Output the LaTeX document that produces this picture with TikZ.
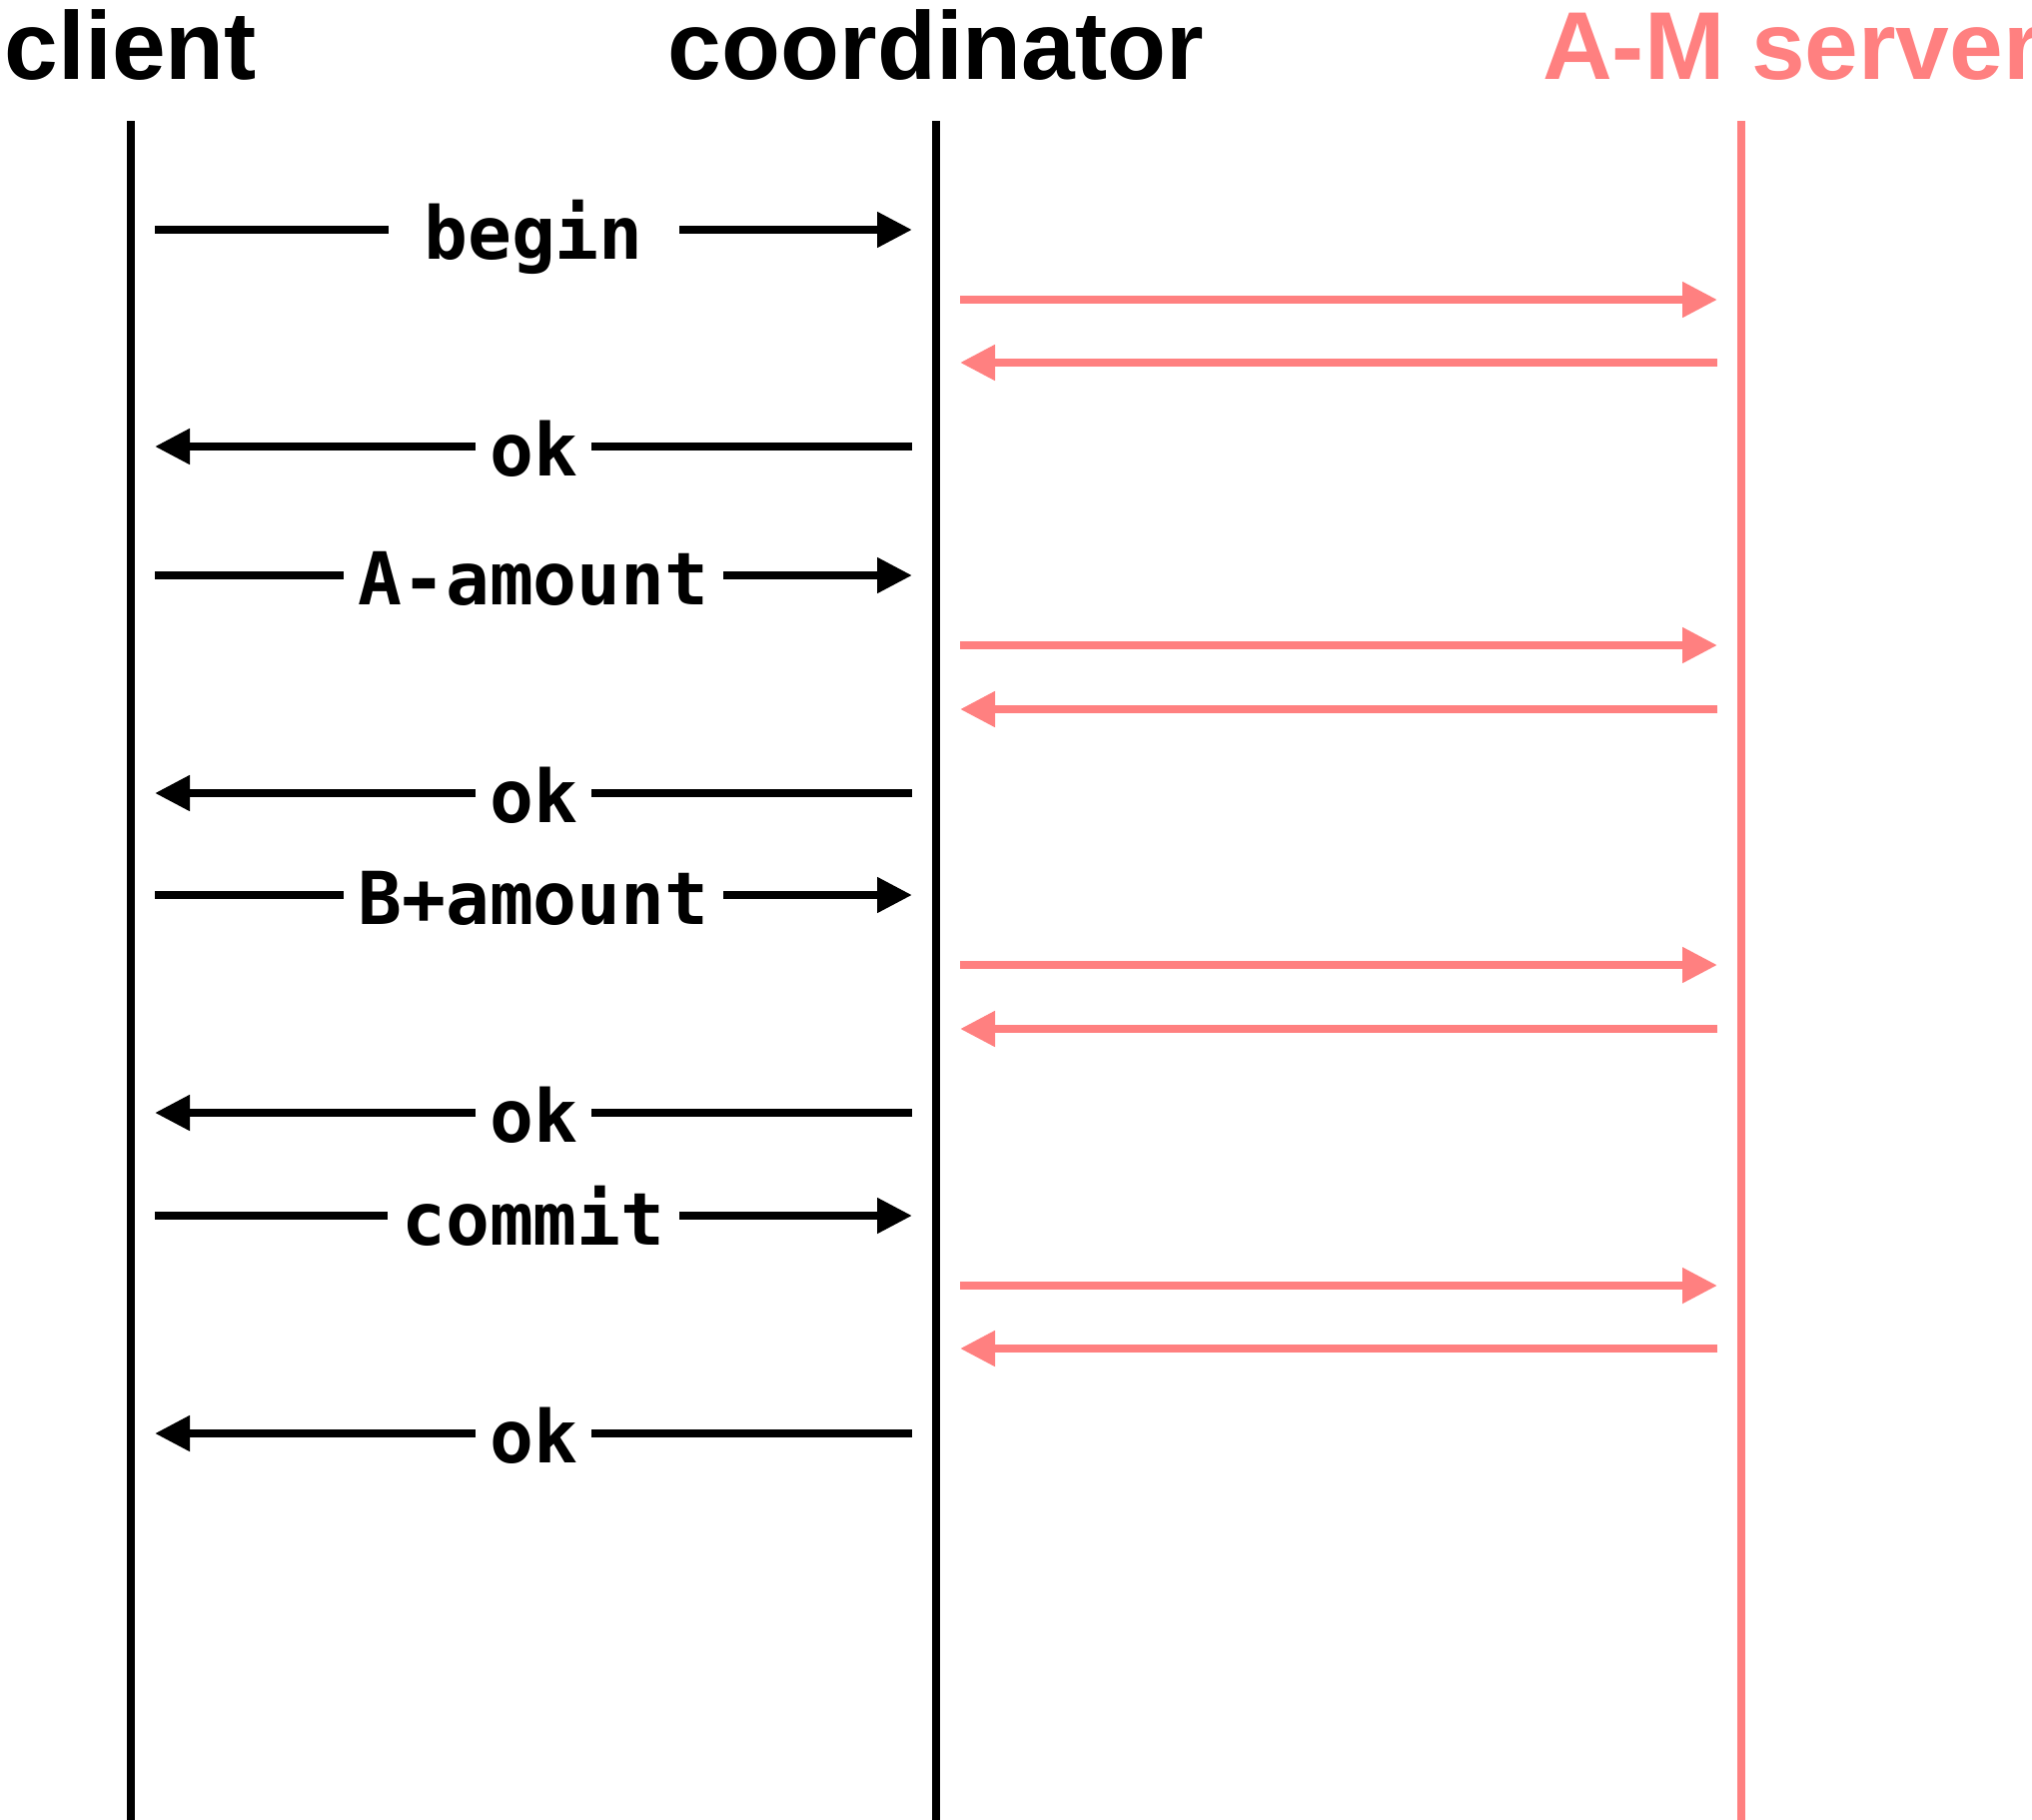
\documentclass[tikz,border=0pt]{standalone}
\usepackage{fontspec}
\setmainfont{Liberation Sans}
\newfontfamily\msgfont{DejaVu Sans Mono}
\usetikzlibrary{arrows.meta}
\definecolor{srv}{RGB}{255,128,128}
\begin{document}
\begin{tikzpicture}[x=1pt,y=-1pt,
  title/.style={font=\fontsize{96.5}{100}\selectfont\bfseries, anchor=base, inner sep=0pt},
  lifeline/.style={line width=8pt},
  msg/.style={line width=8pt, -{Triangle[length=35pt,width=34pt]}},
  msglabel/.style={font=\msgfont\bfseries\fontsize{73}{80}\selectfont, fill=white,
    inner xsep=14pt, inner ysep=0pt, text height=71pt, text depth=12pt},
]
\useasboundingbox (0,0) rectangle (2034,1821);

% participants
\node[title] (client) at (131,79) {client};
\node[title] (coord) at (937,79) {coordinator};
\node[title, anchor=base west, text=srv] (server) at (1544,79) {A-M server};

% lifelines
\coordinate (clientTop) at (131,121);
\coordinate (clientBot) at (131,1830);
\coordinate (coordTop) at (937,121);
\coordinate (coordBot) at (937,1830);
\coordinate (serverTop) at (1743,121);
\coordinate (serverBot) at (1743,1830);
\draw[lifeline] (clientTop) -- (clientBot);
\draw[lifeline] (coordTop) -- (coordBot);
\draw[lifeline, srv] (serverTop) -- (serverBot);

% message end points: client side (L), coordinator side (R),
% coordinator side towards the server (S), server side (T)
\foreach \n/\y in {1/230, 2/447, 3/576, 4/794, 5/896, 6/1114, 7/1217, 8/1435} {
  \coordinate (L\n) at (155,\y);
  \coordinate (R\n) at (913,\y);
}
\foreach \n/\y in {1/300, 2/363, 3/646, 4/710, 5/966, 6/1030, 7/1287, 8/1350} {
  \coordinate (S\n) at (961,\y);
  \coordinate (T\n) at (1719,\y);
}

% client <-> coordinator
\draw[msg] (L1) -- (R1) node[midway, msglabel, minimum width=291pt] {begin};
\draw[msg] (R2) -- (L2) node[midway, msglabel] {ok};
\draw[msg] (L3) -- (R3) node[midway, msglabel] {A-amount};
\draw[msg] (R4) -- (L4) node[midway, msglabel] {ok};
\draw[msg] (L5) -- (R5) node[midway, msglabel] {B+amount};
\draw[msg] (R6) -- (L6) node[midway, msglabel] {ok};
\draw[msg] (L7) -- (R7) node[midway, msglabel] {commit};
\draw[msg] (R8) -- (L8) node[midway, msglabel] {ok};

% coordinator <-> A-M server
\draw[msg, srv] (S1) -- (T1);
\draw[msg, srv] (T2) -- (S2);
\draw[msg, srv] (S3) -- (T3);
\draw[msg, srv] (T4) -- (S4);
\draw[msg, srv] (S5) -- (T5);
\draw[msg, srv] (T6) -- (S6);
\draw[msg, srv] (S7) -- (T7);
\draw[msg, srv] (T8) -- (S8);
\end{tikzpicture}
\end{document}
